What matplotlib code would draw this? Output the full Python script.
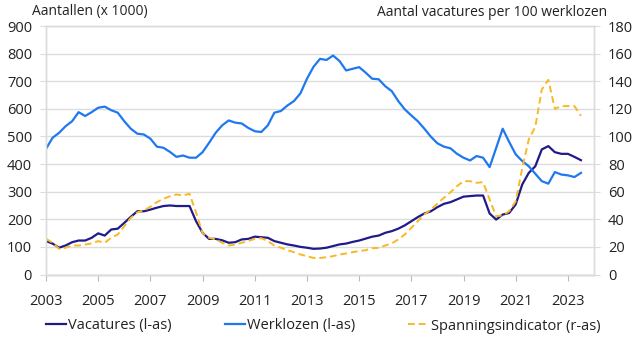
import matplotlib
matplotlib.use("Agg")
import matplotlib.pyplot as plt
import numpy as np

plt.rcParams['font.family'] = ['Open Sans', 'DejaVu Sans']

start_year = 2003
werklozen = [455, 495, 513, 537,
             555, 588, 574, 588,
             604, 608, 595, 586,
             555, 528, 510, 507,
             492, 463, 459, 444,
             426, 431, 423, 423,
             443, 477, 513, 540,
             558, 550, 547, 531,
             519, 516, 540, 586,
             592, 612, 628, 656,
             709, 752, 781, 777,
             793, 773, 739, 745,
             751, 731, 709, 707,
             682, 664, 628, 598,
             576, 555, 528, 499,
             475, 463, 457, 437,
             423, 413, 429, 423,
             389, 458, 528, 480,
             435, 411, 392, 365,
             338, 329, 371, 362,
             359, 353, 368]
vacatures = [121, 112, 97, 105,
             117, 123, 123, 133,
             149, 141, 163, 166,
             187, 209, 229, 229,
             235, 242, 248, 250,
             248, 248, 248, 193,
             151, 129, 129, 124,
             115, 117, 127, 129,
             137, 135, 133, 121,
             115, 109, 105, 100,
             97, 93, 94, 97,
             103, 109, 112, 118,
             123, 130, 137, 141,
             151, 157, 166, 178,
             193, 208, 221, 229,
             244, 256, 262, 272,
             282, 284, 286, 286,
             221, 199, 217, 223,
             254, 326, 368, 392,
             453, 465, 443, 437,
             437, 426, 414]
spanning = [25.9, 23, 18.6, 19.4,
            21, 21, 21.7, 22.5,
            24.2, 23, 26.6, 29,
            35, 41, 45, 46.6,
            49, 52.4, 54.8, 56.7,
            58, 57.2, 58.5, 45,
            30, 26.6, 25.4, 23,
            21, 21.7, 23, 24.2,
            25.9, 26.3, 24.2, 21,
            19.4, 17.6, 16.2, 14.5,
            13.3, 12, 12, 12.5,
            13.3, 14.5, 15.2, 16.2,
            16.9, 17.6, 19, 19.3,
            21, 22.5, 25.4, 29,
            33.8, 38.6, 43.5, 47.1,
            51.4, 55.6, 59.6, 64,
            67.6, 67.6, 66.4, 66.9,
            54.3, 42.2, 42.8, 45.9,
            53, 77, 97.8, 107,
            134, 141, 120, 122,
            122, 122, 115]
xticks = list(range(2003, 2024, 2))

t = start_year + np.arange(len(werklozen)) / 4.0

c_vac = '#211a8a'
c_werk = '#1f78f0'
c_span = '#f7b924'
grid_c = '#dcdcdc'
txt_c = '#222222'

fig = plt.figure(figsize=(6.4, 3.44), dpi=100)
ax = fig.add_axes([46/640, 1 - 274.5/344, (594-46)/640, (274.5-26)/344])
ax2 = ax.twinx()

l1, = ax.plot(t, vacatures, color=c_vac, lw=1.6, label='Vacatures (l-as)', zorder=3)
l2, = ax.plot(t, werklozen, color=c_werk, lw=1.6, label='Werklozen (l-as)', zorder=3)
l3, = ax2.plot(t, spanning, color=c_span, lw=1.4, ls=(0, (3.5, 2)), label='Spanningsindicator (r-as)')

ax.set_xlim(2003, 2024)
ax.set_ylim(0, 900)
ax2.set_ylim(0, 180)
ax.set_yticks(np.arange(0, 901, 100))
ax2.set_yticks(np.arange(0, 181, 20))
ax.set_xticks(xticks)
ax.set_xticklabels([str(x) for x in xticks])

ax.grid(axis='y', color=grid_c, lw=1.0)
ax.set_axisbelow(True)
for a in (ax, ax2):
    for s in a.spines.values():
        s.set_color(grid_c)
        s.set_linewidth(1.0)
ax.spines['bottom'].set_color('#bbbbbb')
ax.tick_params(axis='x', colors='#bbbbbb', length=4, labelcolor=txt_c, labelsize=10.5, pad=10)
ax.tick_params(axis='y', colors=grid_c, length=4, labelcolor=txt_c, labelsize=10.5, pad=6)
ax2.tick_params(axis='y', colors=grid_c, length=4, labelcolor=txt_c, labelsize=10.5, pad=6)

fig.text(32/640, 1 - 12/344, 'Aantallen (x 1000)', ha='left', va='center', fontsize=10, color=txt_c)
fig.text(607/640, 1 - 12/344, 'Aantal vacatures per 100 werklozen', ha='right', va='center', fontsize=10, color=txt_c)

fig.legend(handles=[l1, l2, l3], loc='center', bbox_to_anchor=(323/640, 1 - 326/344), ncol=3,
           frameon=False, fontsize=10.5, handlelength=1.4, handletextpad=0.15, columnspacing=3.6,
           labelcolor=txt_c)

fig.savefig('out.png', dpi=100)
